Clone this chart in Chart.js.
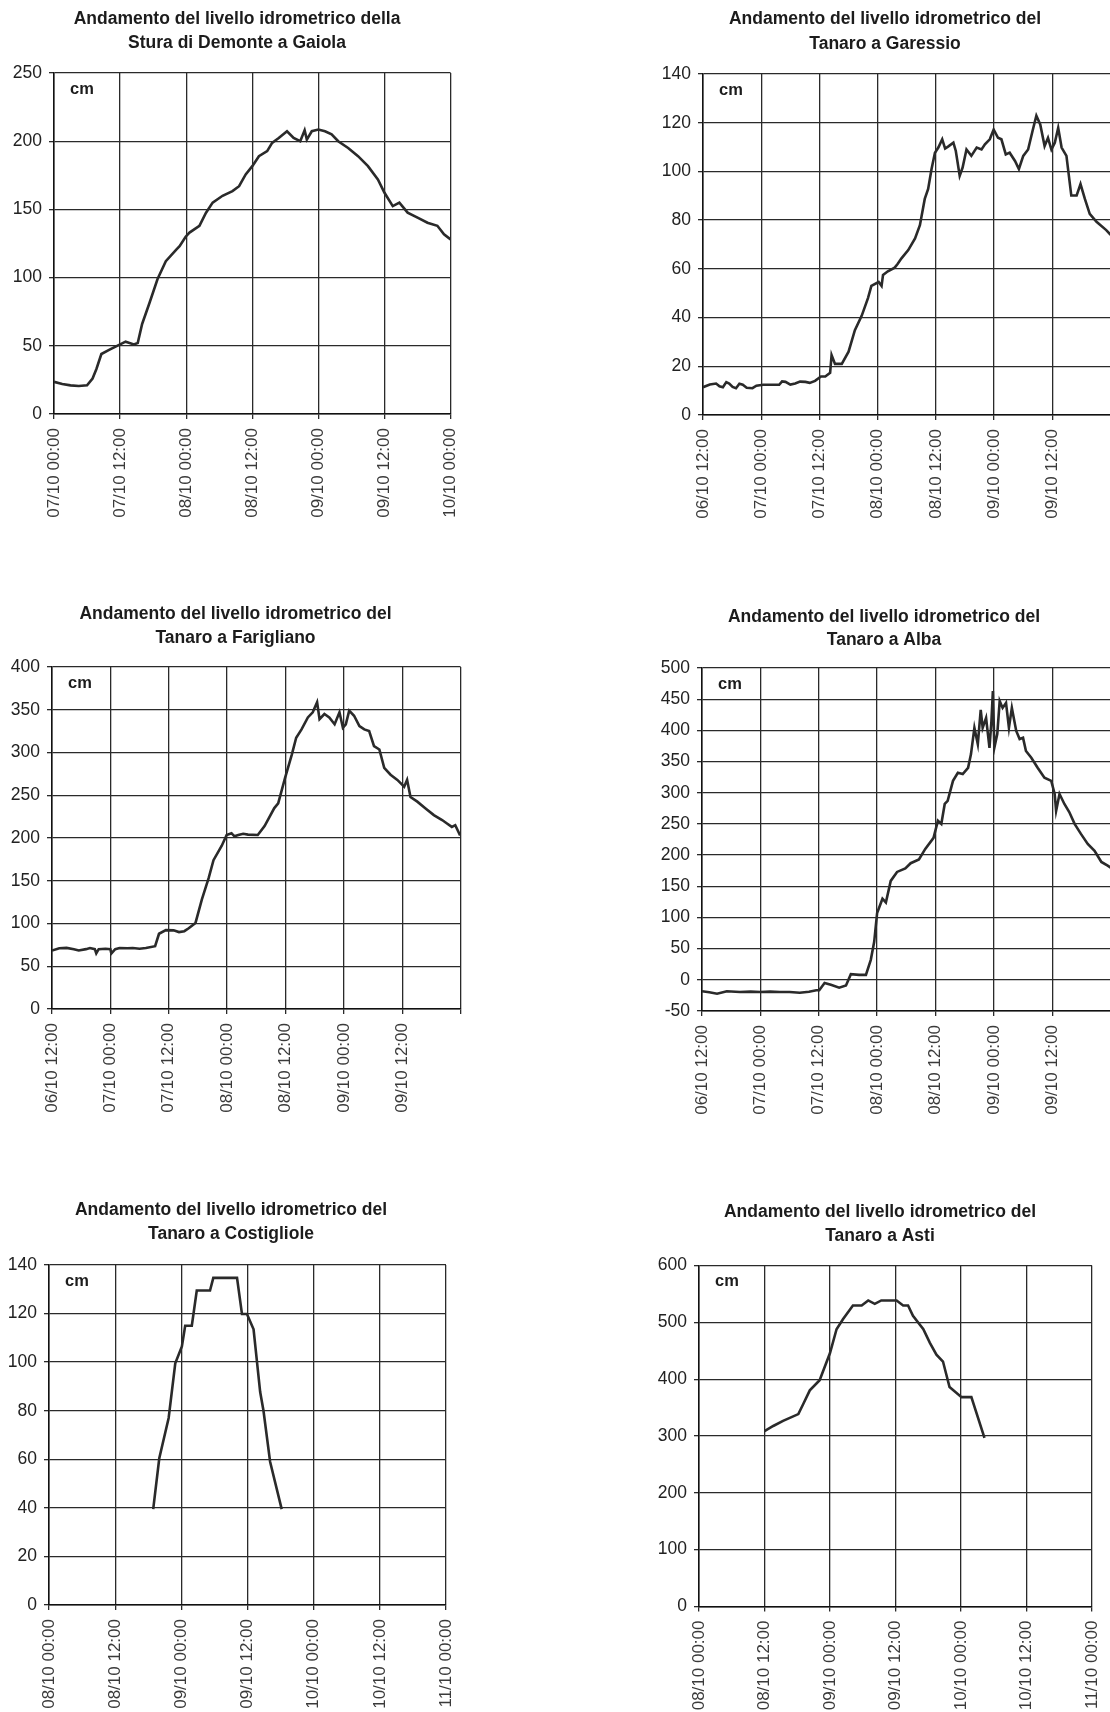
<!DOCTYPE html>
<html>
<head>
<meta charset="utf-8">
<script src="https://cdn.jsdelivr.net/npm/chart.js@4/dist/chart.umd.min.js"></script>
<style>
html,body{margin:0;padding:0;background:#fff;}
#page{position:relative;width:1110px;height:1712px;overflow:hidden;background:#fff;}
#page canvas{position:absolute;}
</style>
</head>
<body>
<div id="page">
<canvas id="c1"></canvas><canvas id="c2"></canvas><canvas id="c3"></canvas>
<canvas id="c4"></canvas><canvas id="c5"></canvas><canvas id="c6"></canvas>
</div>
<script>
// ---------- DATA (hours from the first x-axis tick, level in cm) ----------
const labelsFrom0700 = ['07/10 00:00','07/10 12:00','08/10 00:00','08/10 12:00','09/10 00:00','09/10 12:00','10/10 00:00'];
const labelsFrom0612 = ['06/10 12:00','07/10 00:00','07/10 12:00','08/10 00:00','08/10 12:00','09/10 00:00','09/10 12:00'];
const labelsFrom0800 = ['08/10 00:00','08/10 12:00','09/10 00:00','09/10 12:00','10/10 00:00','10/10 12:00','11/10 00:00'];

const gaiolaTitle = ['Andamento del livello idrometrico della','Stura di Demonte a Gaiola'];
const gaiolaHours = [0,1.5,3,4.5,6,7,7.7,8.6,10,12,13,14.5,15.2,16,17.3,18.8,20.3,22.2,22.8,23.9,24.6,26.4,27.6,28.8,30.6,32.4,33.6,34.8,36,37.2,38.7,39.6,40.8,42.3,43.5,44.7,45.5,45.9,46.8,48,49.2,50.4,51.6,53.4,55.2,57,58.8,60,61.5,62.7,64.2,66,67.8,69.6,70.8,72];
const gaiolaLevels = [23.6,22,21,20.5,21,26,33,44,47,51,53,51,52,66,81,99,112,120.5,123,130,133,138,147.6,155,160,163.4,167,175.6,181.7,189,192.7,198.8,202.4,207.3,202.4,200,208,201.2,207.3,208.5,207.3,205,200,195,189,181.7,172,162.2,152.4,155,147.6,144,140.2,138,131.7,128];

const garessioTitle = ['Andamento del livello idrometrico del','Tanaro a Garessio'];
const garessioHours = [0,1.4,2.7,3.4,4.1,4.8,5.4,6.1,6.8,7.5,8.2,9,10.2,11,12.4,14,15.7,16.3,17,18,19,20,21.1,22,23.1,24.3,25.2,26.2,26.5,27.2,28.6,30,31.3,32.7,34,34.7,36.2,36.8,37.1,38.1,39.5,40.1,40.9,42.3,43.7,44.7,45.7,46.4,47.1,47.8,48.5,49.3,49.9,50.5,51.6,52.1,52.9,53.5,54.3,55.3,56.4,57.4,58.1,59.1,59.9,60.8,61.5,62.4,63.2,64.3,65.1,66,67,67.9,68.7,69.5,70.4,71.1,71.8,72.5,73.2,73.9,74.9,75.9,77,77.8,78.7,79.7,81.1,83.1,84];
const garessioLevels = [11.4,12.5,12.9,11.8,11.4,13.5,12.9,11.5,11,12.8,12.4,11.2,11,12,12.4,12.4,12.4,13.8,13.6,12.5,12.9,13.7,13.6,13.2,14,15.8,15.8,17.3,24.6,21,21,26,34.8,40.7,48,53,54.6,53,57.5,59,60.5,62,64.3,67.7,72.5,77.9,88.7,92.8,101,107.7,109.8,113.2,109.4,110.2,111.8,108.4,98.2,101.6,109,106.4,109.8,109,111.1,113.2,117.2,113.8,113.2,107,107.7,104.3,101,106.4,109,116.5,122.9,119.3,110.4,113.8,109,111.8,117.9,109.8,106.4,90.1,90.1,94.8,88.7,82.6,79.3,75.9,74];

const fariglianoTitle = ['Andamento del livello idrometrico del','Tanaro a Farigliano'];
const fariglianoHours = [0,1.5,3,4.5,5.5,7,7.8,8.8,9.1,9.6,11,12,12.2,13,13.9,15.5,16.6,18,19.3,21.2,22,23.4,25,26.1,27.2,28.1,29.5,30.8,32.2,33.2,34.9,35.9,36.9,37.5,38.3,39.3,40.3,42.3,43.7,45.7,46.5,47.9,49.3,50.2,51.3,52.6,53.6,54.5,55,56,57,58.1,59.1,59.8,60.4,61.1,62.1,63.2,64.2,65.2,66.2,67.3,68.3,69.6,71,72.4,73,73.7,75.1,76.8,78.5,80.2,81.2,82.2,82.9,83.9];
const fariglianoLevels = [68.4,71,71.5,70,68.5,70,71.3,70,65,70,70.5,70,65,70,71.3,71,71.3,70.5,71.3,73.4,88,92.3,92,90,91,94.4,100.7,128,153,174,191,203.5,205.6,202,203.5,205,204,203.5,214,235,240.6,270,297.6,317.3,327,341,347,358.7,339,345,341,333,347,329,333,349,343,331,327,325,307.5,303.5,282,274,268,260,268,248,242.5,234.6,226.8,221,217,213,215,203];

const albaTitle = ['Andamento del livello idrometrico del','Tanaro a Alba'];
const albaHours = [0,1.5,3.1,5.1,7.8,10,12,14,16,18,20.1,22,23.5,24.1,25.2,26.5,28.2,29.6,30.6,32.3,33.7,34.7,35.4,36,37.1,37.8,38.8,40.1,41.8,42.9,44.6,45.9,47.6,48.5,49.2,49.9,50.5,51.6,52.6,53.6,54.7,55.3,56,56.7,57.3,57.7,58.4,59.1,59.5,59.8,60.1,60.7,61.2,61.8,62.5,63.1,63.7,64.6,65.3,66,66.6,67.7,69,70.4,71.8,72.5,72.8,73.5,74.5,75.5,76.6,77.9,79.3,80.7,82.1,83.4,84];
const albaLevels = [-18.4,-20,-22.4,-18.4,-19.5,-19,-19.5,-19,-19.5,-19.5,-20.7,-19,-16.7,-16.7,-5,-8,-12.6,-9,9,8,8,32,61,107,130,124,158.6,173,178.7,187,193,210,227.6,255,250,282,287,319,332,330,340,362,404,378,433,404,420,372,415,463,372,394,447,436,444,404,436,399,386,388,367,356,340,324,319,298,271,298,282,269,250,234,218,207,189,183,180];

const costiglioleTitle = ['Andamento del livello idrometrico del','Tanaro a Costigliole'];
const costiglioleHours = [18.9,20,21.7,22.9,24.1,24.7,25.9,26.8,29.2,29.8,34.1,35,35.9,37.1,38.3,38.9,40.1,42.2];
const costiglioleLevels = [39.5,60.4,77,99.5,106.5,115,115,129.5,129.5,134.7,134.7,119.8,119.8,113.5,87.7,80,59,39.5];

const astiTitle = ['Andamento del livello idrometrico del','Tanaro a Asti'];
const astiHours = [12,13.6,15.4,18.2,19.1,20.3,22.1,24,25.2,26.4,28.2,29.8,31,32.2,33.4,36.2,37.4,38.3,39.2,41.1,42.3,43.5,44.7,45.9,48.1,49.9,52.3];
const astiLevels = [308.7,317.6,326.6,338.5,356.4,380.3,398.2,446,487.8,505.7,529.6,529.6,538.5,532.5,538.5,538.5,529.6,529.6,511.6,487.8,463.9,443,431,386,368.4,368.4,296.7];

const unitLabel = 'cm';

// ---------- RENDERING ----------
const FAMILY = '"Liberation Sans", Arial, Helvetica, sans-serif';
Chart.defaults.font.family = FAMILY;

const titleAndUnit = {
  id: 'titleAndUnit',
  afterDraw(chart, args, opts) {
    const ctx = chart.ctx;
    ctx.save();
    ctx.fillStyle = '#1c1c1c';
    ctx.textAlign = 'center';
    ctx.textBaseline = 'middle';
    ctx.font = 'bold 17.5px ' + FAMILY;
    opts.lines.forEach((t, i) => ctx.fillText(t, opts.cx, opts.ys[i]));
    ctx.textAlign = 'left';
    ctx.font = 'bold 16.5px ' + FAMILY;
    ctx.fillText(unitLabel, chart.chartArea.left + 16, chart.chartArea.top + 16);
    ctx.restore();
  }
};

function makeChart(id, g, hours, levels, y, xMax, xLabels, titleLines) {
  const cv = document.getElementById(id);
  cv.width = g.w; cv.height = g.h;
  cv.style.left = g.left + 'px'; cv.style.top = g.top + 'px';
  cv.style.width = g.w + 'px'; cv.style.height = g.h + 'px';
  const xH = 110;
  const pts = hours.map((h, i) => ({x: h, y: levels[i]}));
  const gridCfg = {color: '#2a2a2a', lineWidth: 1.3, tickLength: 5, drawTicks: true};
  new Chart(cv, {
    type: 'line',
    data: {datasets: [{data: pts, borderColor: '#2a2a2a', borderWidth: 2.6, pointRadius: 0, tension: 0, fill: false}]},
    plugins: [titleAndUnit],
    options: {
      responsive: false, animation: false, devicePixelRatio: 1,
      layout: {padding: {left: 0, top: g.pt - g.top, right: g.left + g.w - g.pr, bottom: g.top + g.h - g.pb - xH}},
      plugins: {
        legend: {display: false}, tooltip: {enabled: false}, title: {display: false},
        titleAndUnit: {lines: titleLines, cx: g.tcx - g.left, ys: [g.ty1 - g.top, g.ty2 - g.top]}
      },
      scales: {
        x: {
          type: 'linear', min: 0, max: xMax,
          afterFit: s => { s.height = xH; },
          grid: gridCfg,
          border: {display: true, color: '#111', width: 1.5},
          ticks: {stepSize: 12, autoSkip: false, maxRotation: 90, minRotation: 90, padding: 9,
                  color: '#3a3a3a', font: {size: 17},
                  callback: (v, i) => xLabels[i] !== undefined ? xLabels[i] : ''}
        },
        y: {
          min: y[0], max: y[1],
          afterFit: s => { s.width = g.pl - g.left; },
          grid: gridCfg,
          border: {display: true, color: '#111', width: 1.5},
          ticks: {stepSize: y[2], padding: 7, color: '#222', font: {size: 17.5}}
        }
      }
    }
  });
}

makeChart('c1', {left:0, top:0, w:480, h:540, pl:54, pr:452, pt:73, pb:414, tcx:237, ty1:19.6, ty2:43.6},
  gaiolaHours, gaiolaLevels, [0,250,50], 72, labelsFrom0700, gaiolaTitle);
makeChart('c2', {left:630, top:0, w:510, h:540, pl:703, pr:1114.6, pt:74, pb:415, tcx:885, ty1:19.6, ty2:44.6},
  garessioHours, garessioLevels, [0,140,20], 84, labelsFrom0612, garessioTitle);
makeChart('c3', {left:0, top:590, w:490, h:540, pl:52, pr:465, pt:667, pb:1009, tcx:235.5, ty1:614.3, ty2:638},
  fariglianoHours, fariglianoLevels, [0,400,50], 84, labelsFrom0612, fariglianoTitle);
makeChart('c4', {left:630, top:590, w:510, h:540, pl:702, pr:1113.3, pt:668, pb:1011, tcx:884, ty1:616.8, ty2:640},
  albaHours, albaLevels, [-50,500,50], 84, labelsFrom0612, albaTitle);
makeChart('c5', {left:0, top:1180, w:480, h:560, pl:49, pr:446, pt:1265, pb:1605, tcx:231, ty1:1210.5, ty2:1234.3},
  costiglioleHours, costiglioleLevels, [0,140,20], 72, labelsFrom0800, costiglioleTitle);
makeChart('c6', {left:630, top:1180, w:500, h:560, pl:699, pr:1092, pt:1265.5, pb:1606.5, tcx:880, ty1:1212, ty2:1236},
  astiHours, astiLevels, [0,600,100], 72, labelsFrom0800, astiTitle);
</script>
</body>
</html>
